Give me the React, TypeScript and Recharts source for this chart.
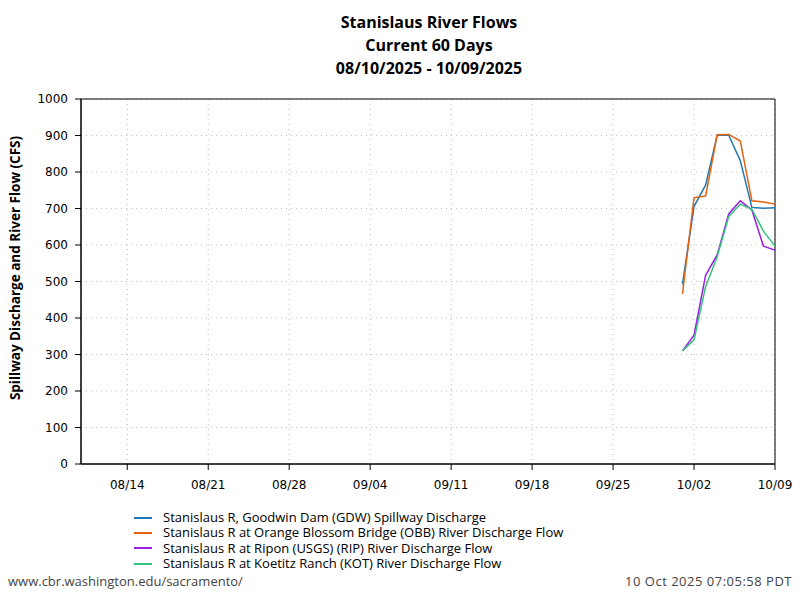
import {
  CartesianGrid,
  Line,
  LineChart,
  ReferenceArea,
  XAxis,
  YAxis,
} from "recharts";

// daily readings, 2025
const dates = ["10/01", "10/02", "10/03", "10/04", "10/05", "10/06", "10/07", "10/08", "10/09"];
const gdw = [492, 706, 764, 901, 901, 831, 703, 701, 702];
const obb = [466, 730, 734, 902, 903, 885, 721, 718, 712];
const rip = [310, 353, 517, 573, 685, 721, 696, 597, 586];
const kot = [310, 340, 486, 568, 678, 712, 698, 638, 597];

const tickLabels = ["08/14", "08/21", "08/28", "09/04", "09/11", "09/18", "09/25", "10/02", "10/09"];
const yTicks = [0, 100, 200, 300, 400, 500, 600, 700, 800, 900, 1000];

const START = Date.UTC(2025, 7, 10);
const dayOf = (md: string) => {
  const [m, d] = md.split("/").map(Number);
  return Math.round((Date.UTC(2025, m - 1, d) - START) / 86400000);
};

const series = [
  { key: "gdw", name: "Stanislaus R, Goodwin Dam (GDW) Spillway Discharge", color: "#1f77b4" },
  { key: "obb", name: "Stanislaus R at Orange Blossom Bridge (OBB) River Discharge Flow", color: "#e6600d" },
  { key: "rip", name: "Stanislaus R at Ripon (USGS) (RIP) River Discharge Flow", color: "#9b1de0" },
  { key: "kot", name: "Stanislaus R at Koetitz Ranch (KOT) River Discharge Flow", color: "#33c47c" },
];

const data = dates.map((d, i) => ({
  day: dayOf(d),
  gdw: gdw[i],
  obb: obb[i],
  rip: rip[i],
  kot: kot[i],
}));

const labelFont = "'Open Sans', sans-serif";
const tickStyle = { fontSize: 12, fill: "#000", fontFamily: "'DejaVu Sans', sans-serif" };

export default function App() {
  return (
    <div
      style={{
        position: "absolute",
        left: 0,
        top: 0,
        width: 800,
        height: 600,
        background: "#fff",
        fontFamily: labelFont,
      }}
    >
      <div
        style={{
          position: "absolute",
          top: 11,
          left: 0,
          width: 858,
          textAlign: "center",
          fontWeight: "bold",
          fontSize: 16,
          lineHeight: "23px",
        }}
      >
        <div>Stanislaus River Flows</div>
        <div>Current 60 Days</div>
        <div>08/10/2025 - 10/09/2025</div>
      </div>

      <LineChart
        width={800}
        height={600}
        data={data}
        margin={{ top: 99, right: 25, bottom: 0, left: 0 }}
      >
        <CartesianGrid stroke="#bbb" strokeDasharray="1 4" />
        <XAxis
          dataKey="day"
          type="number"
          domain={[0, 60]}
          ticks={tickLabels.map(dayOf)}
          tickFormatter={(v: number) => tickLabels[tickLabels.map(dayOf).indexOf(v)]}
          height={136}
          stroke="#000"
          tick={tickStyle}
          tickMargin={10}
        />
        <YAxis
          type="number"
          domain={[0, 1000]}
          ticks={yTicks}
          width={81}
          stroke="#000"
          tick={tickStyle}
          tickMargin={7}
          interval={0}
        />
        <ReferenceArea x1={0} x2={60} y1={0} y2={1000} fill="none" stroke="#000" strokeOpacity={1} />
        {series.map((s) => (
          <Line
            key={s.key}
            type="linear"
            dataKey={s.key}
            name={s.name}
            stroke={s.color}
            strokeWidth={1.5}
            dot={false}
            isAnimationActive={false}
          />
        ))}
      </LineChart>

      <div
        style={{
          position: "absolute",
          left: 15,
          top: 268,
          transform: "translate(-50%, -50%) rotate(-90deg)",
          whiteSpace: "nowrap",
          fontWeight: "bold",
          fontSize: 13.5,
        }}
      >
        Spillway Discharge and River Flow (CFS)
      </div>

      <div style={{ position: "absolute", left: 134, top: 510, fontSize: 13, lineHeight: "15px" }}>
        {series.map((s) => (
          <div key={s.key} style={{ display: "flex", alignItems: "center", height: 15.3 }}>
            <span style={{ width: 18, height: 2, background: s.color, marginRight: 11 }} />
            <span>{s.name}</span>
          </div>
        ))}
      </div>

      <div style={{ position: "absolute", left: 8, top: 572, fontSize: 13, lineHeight: "18px", color: "#444" }}>
        www.cbr.washington.edu/sacramento/
      </div>
      <div
        style={{
          position: "absolute",
          right: 8,
          top: 572,
          fontSize: 13,
          lineHeight: "18px",
          letterSpacing: 0.5,
          color: "#444",
        }}
      >
        10 Oct 2025 07:05:58 PDT
      </div>
    </div>
  );
}
